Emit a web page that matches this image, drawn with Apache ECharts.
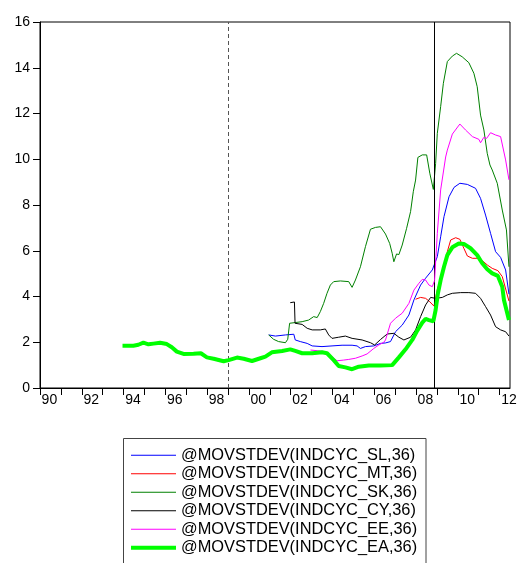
<!DOCTYPE html>
<html>
<head>
<meta charset="utf-8">
<script src="https://cdn.jsdelivr.net/npm/echarts@6/dist/echarts.min.js"></script>
<style>html,body{margin:0;padding:0;background:#fff;}#c{width:520px;height:563px;}</style>
</head>
<body>
<div id="c"></div>
<script>
// ---- data (decimal years, values) ----
const slYears = [2000.95,2001.27,2001.75,2002.15,2002.22,2002.46,2002.79,2003.03,2003.5,2003.98,2004.46,2004.94,2005.18,2005.34,2005.58,2005.98,2006.3,2006.54,2006.78,2007.02,2007.34,2007.66,2007.9,2008.22,2008.46,2008.78,2008.86,2009.02,2009.18,2009.34,2009.58,2009.82,2010.1,2010.46,2010.85,2011.09,2011.33,2011.57,2011.81,2012.05,2012.29,2012.45];
const slValues = [2.32,2.27,2.32,2.35,2.10,2.03,1.95,1.84,1.81,1.84,1.87,1.87,1.84,1.73,1.81,1.84,1.95,1.97,2.03,2.46,2.75,3.19,3.85,4.50,4.80,5.16,5.23,5.74,6.61,7.49,8.36,8.77,8.95,8.90,8.73,8.29,7.56,6.76,5.96,5.71,5.16,4.1];

const mtYears = [2007.98,2008.22,2008.46,2008.66,2008.86,2009.02,2009.26,2009.5,2009.66,2009.9,2010.1,2010.29,2010.46,2010.7,2010.93,2011.17,2011.41,2011.65,2011.92,2012.13,2012.45];
const mtValues = [3.88,3.96,3.92,3.77,3.58,4.3,5.01,5.96,6.47,6.57,6.50,6.11,5.77,5.67,5.67,5.57,5.38,5.23,5.13,4.87,3.8];

const skYears = [2000.95,2001.18,2001.42,2001.75,2001.86,2001.95,2002.22,2002.55,2002.86,2003.1,2003.27,2003.42,2003.58,2003.74,2003.9,2004.06,2004.38,2004.78,2004.94,2005.1,2005.34,2005.58,2005.82,2006.06,2006.3,2006.54,2006.74,2006.86,2006.94,2007.07,2007.18,2007.34,2007.55,2007.74,2007.87,2007.98,2008.09,2008.3,2008.51,2008.66,2008.83,2008.94,2009.02,2009.18,2009.31,2009.5,2009.74,2009.94,2010.21,2010.53,2010.77,2010.93,2011.09,2011.25,2011.41,2011.54,2011.65,2011.89,2012.13,2012.33,2012.45];
const skValues = [2.32,2.13,2.03,1.98,2.13,2.83,2.86,2.90,2.97,3.12,3.08,3.34,3.70,4.14,4.50,4.65,4.68,4.65,4.40,4.72,5.30,6.18,6.94,7.02,7.05,6.73,6.32,5.89,5.52,5.86,5.83,6.25,6.98,7.71,8.58,9.09,10.08,10.19,10.19,9.39,8.68,9.82,11.13,12.3,13.32,14.27,14.51,14.63,14.48,14.22,13.76,13.17,11.93,11.28,10.26,9.75,9.53,8.95,7.78,6.91,5.3];

const cyYears = [2001.98,2002.18,2002.21,2002.55,2002.79,2003.03,2003.42,2003.66,2003.82,2003.98,2004.3,2004.62,2004.94,2005.42,2005.82,2006.02,2006.3,2006.62,2006.94,2007.18,2007.42,2007.74,2007.98,2008.22,2008.46,2008.7,2008.94,2009.26,2009.5,2009.74,2010.14,2010.53,2010.85,2011.09,2011.33,2011.57,2011.81,2012.05,2012.29,2012.45];
const cyValues = [3.73,3.76,2.83,2.78,2.61,2.54,2.54,2.58,2.32,2.17,2.22,2.27,2.17,2.10,1.98,1.88,2.12,2.36,2.39,2.22,2.10,2.22,2.54,3.12,3.63,3.96,3.92,3.96,4.07,4.14,4.17,4.17,4.14,3.92,3.56,3.19,2.68,2.54,2.46,2.27];

const eeYears = [2002.95,2003.27,2003.66,2003.98,2004.22,2004.54,2004.78,2005.1,2005.42,2005.66,2005.98,2006.22,2006.46,2006.54,2006.78,2007.02,2007.34,2007.66,2007.9,2008.14,2008.3,2008.46,2008.62,2008.78,2008.89,2009.02,2009.18,2009.42,2009.5,2009.74,2010.1,2010.37,2010.7,2011.01,2011.09,2011.25,2011.38,2011.57,2011.81,2012.05,2012.29,2012.45];
const eeValues = [1.66,1.63,1.59,1.37,1.19,1.22,1.25,1.30,1.40,1.49,1.73,1.88,2.0,2.10,2.83,3.05,3.27,3.70,4.28,4.58,4.75,4.72,4.50,4.43,4.7,6.76,8.66,10.1,10.4,11.1,11.54,11.28,10.99,10.87,10.72,10.96,10.91,11.16,11.06,10.99,9.97,9.1];

const eaYears = [1993.95,1994.47,1994.71,1994.95,1995.19,1995.43,1995.75,1996.07,1996.31,1996.55,1996.87,1997.35,1997.70,1997.99,1998.31,1998.79,1999.03,1999.43,1999.75,2000.15,2000.55,2000.79,2001.1,2001.59,2001.98,2002.22,2002.55,2003.03,2003.5,2003.74,2004.06,2004.3,2004.62,2004.94,2005.26,2005.74,2006.3,2006.86,2007.18,2007.5,2007.82,2008.06,2008.3,2008.46,2008.62,2008.83,2008.94,2009.05,2009.18,2009.34,2009.5,2009.74,2010.05,2010.29,2010.61,2010.93,2011.17,2011.41,2011.65,2011.92,2012.13,2012.21,2012.45];
const eaValues = [1.85,1.85,1.89,1.98,1.91,1.94,1.98,1.92,1.78,1.59,1.49,1.50,1.52,1.34,1.28,1.17,1.22,1.33,1.28,1.18,1.30,1.37,1.56,1.62,1.69,1.62,1.52,1.52,1.56,1.52,1.22,0.96,0.90,0.82,0.93,0.98,0.98,1.00,1.34,1.69,2.10,2.51,2.86,3.02,2.97,2.92,3.41,4.14,4.72,5.30,5.81,6.15,6.32,6.30,6.11,5.81,5.45,5.19,5.01,4.90,4.43,3.85,2.97];

const seriesNames = ['@MOVSTDEV(INDCYC_SL,36)','@MOVSTDEV(INDCYC_MT,36)','@MOVSTDEV(INDCYC_SK,36)','@MOVSTDEV(INDCYC_CY,36)','@MOVSTDEV(INDCYC_EE,36)','@MOVSTDEV(INDCYC_EA,36)'];
const tickYears = [1990,1991,1992,1993,1994,1995,1996,1997,1998,1999,2000,2001,2002,2003,2004,2005,2006,2007,2008,2009,2010,2011,2012];
const labelYears = [1990,1992,1994,1996,1998,2000,2002,2004,2006,2008,2010,2012];
const eventLines = [1999.0, 2008.86];

// ---- build ----
const pair = (xs, ys) => xs.map((x, i) => [x, ys[i]]);
const allData = [pair(slYears, slValues), pair(mtYears, mtValues), pair(skYears, skValues), pair(cyYears, cyValues), pair(eeYears, eeValues), pair(eaYears, eaValues)];
const colors = ['#0000FF', '#FF0000', '#008000', '#000000', '#FF00FF', '#00FF00'];
const widths = [1, 1, 1, 1, 1, 4];
const LABEL_SHIFT = 0.45;
const FONT = '"Liberation Sans", Arial, sans-serif';
const ICON_THIN = 'path://M0,0 M45,14 M0,6.5 L45,6.5 L45,7.5 L0,7.5 Z';
const ICON_THICK = 'path://M0,0 M45,14 M0,5 L45,5 L45,9 L0,9 Z';

const series = allData.map((d, i) => ({
  name: seriesNames[i],
  type: 'line',
  data: d,
  symbol: 'none',
  showSymbol: false,
  animation: false,
  lineStyle: { color: colors[i], width: widths[i] },
  itemStyle: { color: colors[i] },
  z: 2 + i
}));
series[0].markLine = {
  silent: true,
  symbol: 'none',
  label: { show: false },
  animation: false,
  data: [
    { xAxis: eventLines[0], lineStyle: { color: '#555', width: 1, type: [4, 3] } },
    { xAxis: eventLines[1], lineStyle: { color: '#000', width: 1, type: 'solid' } }
  ]
};

const chart = echarts.init(document.getElementById('c'), null, { renderer: 'canvas' });
chart.setOption({
  backgroundColor: '#fff',
  animation: false,
  grid: { left: 40, right: 10, top: 22, bottom: 175, show: true, borderColor: '#000', borderWidth: 1, backgroundColor: 'transparent' },
  xAxis: {
    type: 'value',
    min: tickYears[0],
    max: 2012.5,
    axisLine: { show: true, lineStyle: { color: '#000', width: 1 } },
    axisTick: { show: true, inside: false, length: 7, lineStyle: { color: '#000' }, customValues: tickYears },
    axisLabel: {
      color: '#000', fontSize: 14, fontFamily: FONT, margin: 5,
      customValues: labelYears.map(y => y + LABEL_SHIFT),
      formatter: v => String(Math.floor(v + 1e-6) % 100).padStart(2, '0'),
      showMinLabel: true, showMaxLabel: true
    },
    splitLine: { show: false }
  },
  yAxis: {
    type: 'value',
    min: 0, max: 16, interval: 2,
    axisLine: { show: true, lineStyle: { color: '#000', width: 1 } },
    axisTick: { show: true, inside: false, length: 7, lineStyle: { color: '#000' } },
    axisLabel: { color: '#000', fontSize: 14, fontFamily: FONT, margin: 10 },
    splitLine: { show: false }
  },
  graphic: [{
    type: 'rect',
    silent: true,
    z: 0,
    shape: { x: 123.5, y: 438.5, width: 302.5, height: 160 },
    style: { fill: '#fff', stroke: '#444', lineWidth: 1 }
  }],
  legend: {
    orient: 'vertical',
    left: 123,
    top: 438,
    padding: [8, 9, 0, 8],
    itemWidth: 45,
    itemHeight: 14,
    itemGap: 0,
    z: 10,
    itemStyle: { borderWidth: 0 },
    textStyle: { color: '#000', fontSize: 16.4, fontFamily: FONT, lineHeight: 18.5, padding: [0, 0, 0, 0] },
    data: seriesNames.map((n, i) => ({
      name: n,
      icon: widths[i] > 1 ? ICON_THICK : ICON_THIN,
      itemStyle: { color: colors[i], borderWidth: 0 }
    }))
  },
  series: series
});
</script>
</body>
</html>
